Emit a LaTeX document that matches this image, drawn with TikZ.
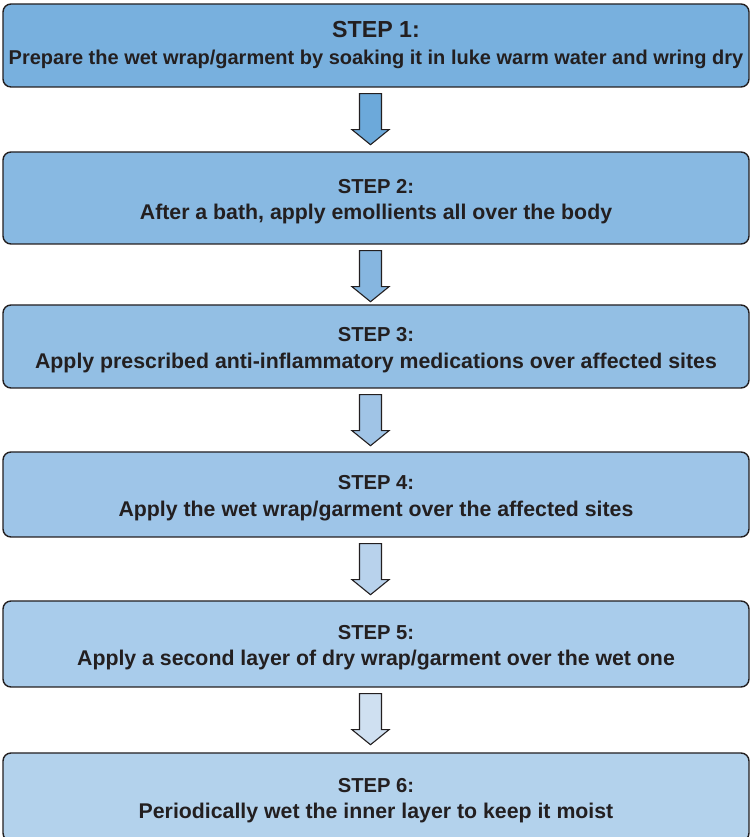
\documentclass[tikz,border=0pt]{standalone}
\usepackage{fontspec}
\setmainfont{Liberation Sans}
\usetikzlibrary{calc}
\definecolor{txt}{HTML}{231F20}
\definecolor{edge}{HTML}{231F20}
\definecolor{f1}{HTML}{78B0DE}
\definecolor{f2}{HTML}{88B9E2}
\definecolor{f3}{HTML}{93BFE4}
\definecolor{f4}{HTML}{9EC5E8}
\definecolor{f5}{HTML}{A9CCEB}
\definecolor{f6}{HTML}{B3D2EC}
\definecolor{a1}{HTML}{6CA9DA}
\definecolor{a2}{HTML}{86B6E0}
\definecolor{a3}{HTML}{A0C4E6}
\definecolor{a4}{HTML}{B8D2EC}
\definecolor{a5}{HTML}{CFE0F1}
\tikzset{
  stepbox/.style={draw=edge, line width=1.4pt, rounded corners=8pt, minimum width=746pt,
    inner sep=0pt, align=center, text=txt,
    font=\fontsize{21.3}{26.5}\selectfont\bfseries},
  flowarrow/.style={draw=edge, line width=1.1pt, line join=miter},
}
\newcommand{\downarrowshape}[2]{%
  \draw[flowarrow, fill=#2] ($(#1.south)+(-16.5,-6)$) -- ++(22,0) -- ++(0,-36) -- ++(7.5,0)
    -- ++(-18.5,-15) -- ++(-18.5,15) -- ++(7.5,0) -- cycle;}
\newcommand{\steptitle}[1]{{\fontsize{20.2}{26.5}\selectfont\rule{0pt}{21.5pt}#1}}
\begin{document}
\begin{tikzpicture}[x=1pt,y=1pt]
\useasboundingbox (0,0) rectangle (751,837);
\clip (0,0) rectangle (751,837);
\node[stepbox, fill=f1, minimum height=83pt, font=\fontsize{20}{27}\selectfont\bfseries] (b1) at (376,791.5)
  {{\fontsize{23.2}{27}\selectfont STEP 1:}\\Prepare the wet wrap/garment by soaking it in luke warm water and wring dry};
\node[stepbox, fill=f2, minimum height=92pt] (b2) at (376,639)
  {\steptitle{STEP 2:}\\After a bath, apply emollients all over the body};
\node[stepbox, fill=f3, minimum height=83pt] (b3) at (376,490.5)
  {\steptitle{STEP 3:}\\Apply prescribed anti-inflammatory medications over affected sites};
\node[stepbox, fill=f4, minimum height=85pt] (b4) at (376,342.5)
  {\steptitle{STEP 4:}\\Apply the wet wrap/garment over the affected sites};
\node[stepbox, fill=f5, minimum height=86pt] (b5) at (376,193)
  {\steptitle{STEP 5:}\\Apply a second layer of dry wrap/garment over the wet one};
\node[stepbox, fill=f6, minimum height=88pt] (b6) at (376,40)
  {\steptitle{STEP 6:}\\Periodically wet the inner layer to keep it moist};
\downarrowshape{b1}{a1}
\downarrowshape{b2}{a2}
\downarrowshape{b3}{a3}
\downarrowshape{b4}{a4}
\downarrowshape{b5}{a5}
\end{tikzpicture}
\end{document}
